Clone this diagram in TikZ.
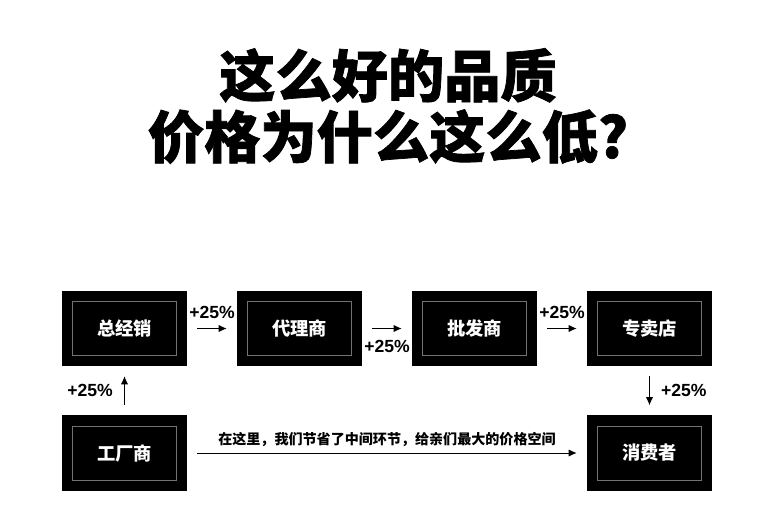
\documentclass[tikz,border=0pt]{standalone}
\usepackage{fontspec}
\setmainfont{Liberation Sans}
\newfontfamily\cjk{Noto Sans CJK SC}
\newfontfamily\cjkheavy{Noto Sans CJK SC}[BoldFeatures={FakeBold=1.3}]
\usetikzlibrary{arrows.meta,positioning}

\tikzset{
  stage/.style={fill=black,minimum width=3.125cm,minimum height=1.875cm,inner sep=0pt,
    text=white,font=\cjk\bfseries\fontsize{13}{15}\selectfont,
    path picture={\draw[black!55,line width=0.5pt]
      ([shift={(0.26cm,-0.26cm)}]path picture bounding box.north west) rectangle
      ([shift={(-0.26cm,0.26cm)}]path picture bounding box.south east);}},
  flow/.style={-{Latex[length=2mm,width=1.8mm]},line width=0.6pt,shorten <=0.25cm,shorten >=0.25cm},
  pct/.style={font=\bfseries\fontsize{12.5}{14}\selectfont,inner sep=2pt}
}

\begin{document}
\begin{tikzpicture}[x=0.025cm,y=-0.025cm]
\useasboundingbox (0,0) rectangle (778,522);
% title
\node[align=center,font=\cjkheavy\bfseries\fontsize{40}{43.4}\selectfont] (title) at (388,106) {这么好的品质\\价格为什么这么低?};
% chain of dealers
\node[stage] (zjx) at (124.5,328.5) {总经销};
\node[stage] (dls) at (299.5,328.5) {代理商};
\node[stage] (pfs) at (474.5,328.5) {批发商};
\node[stage] (zmd) at (649.5,328.5) {专卖店};
\node[stage] (gcs) at (124.5,453) {工厂商};
\node[stage] (xfz) at (649.5,453) {消费者};
% markups
\draw[flow] (gcs) -- node[pct,left=6pt] {+25\%} (zjx);
\draw[flow] (zjx) -- node[pct,above=5pt] {+25\%} (dls);
\draw[flow] (dls) -- node[pct,below=6pt] {+25\%} (pfs);
\draw[flow] (pfs) -- node[pct,above=5pt] {+25\%} (zmd);
\draw[flow] (zmd) -- node[pct,right=6pt] {+25\%} (xfz);
% direct route
\draw[flow] (gcs) -- node[above=1pt,font=\cjk\bfseries\fontsize{10}{12}\selectfont] {在这里，我们节省了中间环节，给亲们最大的价格空间} (xfz);
\end{tikzpicture}
\end{document}
